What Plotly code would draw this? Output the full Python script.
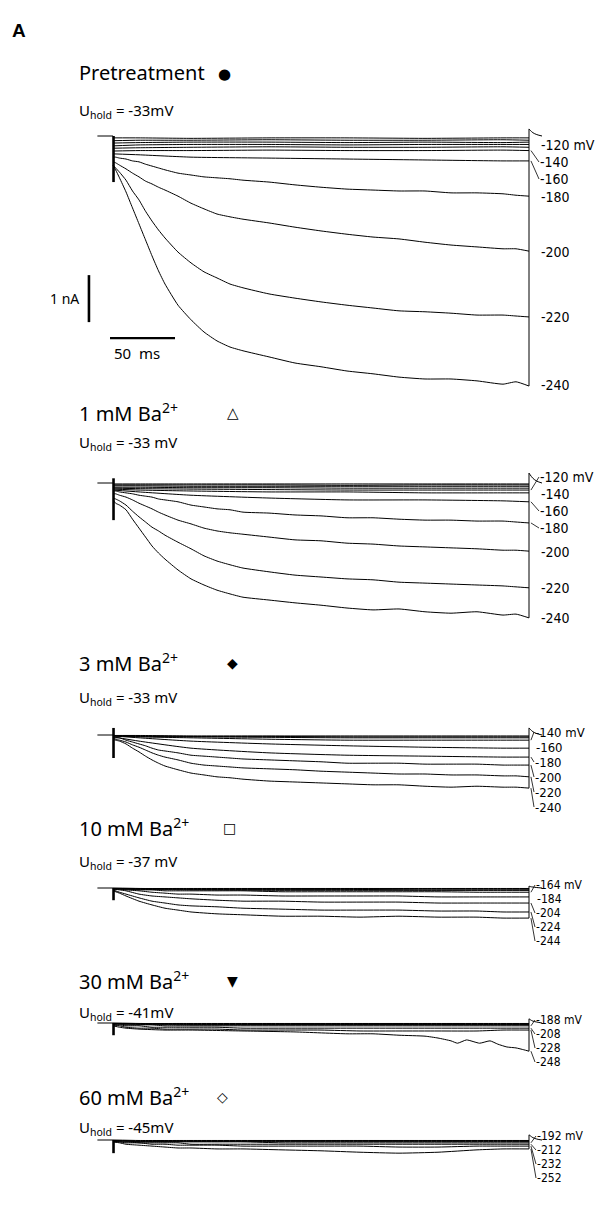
import plotly.graph_objects as go

# ---------------- time bases (ms after the start of the voltage step) ----------------
t_fine = [0, 2, 5, 10, 15, 20, 25, 30, 35, 40, 50, 60, 70, 80, 90, 100,
          120, 140, 160, 180, 200, 220, 240, 260, 280, 300, 310, 320]
t_mid = [0, 5, 10, 20, 30, 40, 50, 60, 80, 100, 130, 160, 190, 220, 250, 280, 300, 320]
t_coarse = [0, 20, 60, 120, 180, 240, 300, 320]
t_hold = [-12, 0]
hold_level = [0.0, 0.0]
t_tail = [320, 321, 323, 326, 330]

# ---------------- Pretreatment (currents in nA, relative to holding current) ----------------
pre_m40 = [-0.04, -0.04, -0.05, -0.04, -0.04, -0.05, -0.04, -0.04]
pre_m60 = [-0.10, -0.09, -0.09, -0.08, -0.09, -0.09, -0.08, -0.09]
pre_m80 = [-0.15, -0.14, -0.13, -0.13, -0.14, -0.13, -0.14, -0.13]
pre_m100 = [-0.21, -0.19, -0.18, -0.18, -0.19, -0.18, -0.18, -0.18]
pre_m120 = [-0.26, -0.25, -0.24, -0.23, -0.24, -0.24, -0.23, -0.24]
pre_m140 = [-0.32, -0.31, -0.31, -0.30, -0.31, -0.31, -0.30, -0.31]
pre_m160 = [-0.38, -0.40, -0.45, -0.47, -0.49, -0.51, -0.53, -0.53]
pre_m180 = [-0.45, -0.45, -0.47, -0.49, -0.53, -0.55, -0.60, -0.64, -0.68, -0.72, -0.79, -0.83, -0.87, -0.89,
            -0.91, -0.94, -0.98, -1.04, -1.09, -1.13, -1.15, -1.17, -1.17, -1.21, -1.21, -1.23, -1.26, -1.28]
pre_m200 = [-0.55, -0.57, -0.62, -0.70, -0.79, -0.87, -0.96, -1.02, -1.09, -1.15, -1.28, -1.43, -1.55, -1.66,
            -1.72, -1.77, -1.85, -1.94, -2.02, -2.09, -2.15, -2.19, -2.26, -2.32, -2.36, -2.40, -2.40, -2.45]
pre_m220 = [-0.62, -0.68, -0.77, -0.94, -1.17, -1.36, -1.60, -1.81, -2.00, -2.17, -2.47, -2.70, -2.89, -3.02,
            -3.15, -3.23, -3.36, -3.45, -3.53, -3.60, -3.66, -3.72, -3.74, -3.77, -3.81, -3.81, -3.83, -3.85]
pre_m240 = [-0.62, -0.72, -0.89, -1.19, -1.53, -1.87, -2.21, -2.55, -2.87, -3.15, -3.60, -3.91, -4.17, -4.36,
            -4.49, -4.57, -4.70, -4.83, -4.91, -5.00, -5.06, -5.13, -5.17, -5.17, -5.21, -5.28, -5.23, -5.32]
pre_spike = [0.0, -0.98]
pre_tail = [0.15, 0.12, 0.07, 0.03, 0.0]

# ---------------- 1 mM Ba2+ ----------------
ba1_m40 = [-0.02, -0.02, -0.02, -0.02, -0.02, -0.02, -0.02, -0.02]
ba1_m60 = [-0.04, -0.04, -0.04, -0.04, -0.05, -0.04, -0.04, -0.04]
ba1_m80 = [-0.06, -0.06, -0.07, -0.07, -0.07, -0.07, -0.07, -0.07]
ba1_m100 = [-0.09, -0.09, -0.10, -0.10, -0.11, -0.11, -0.11, -0.11]
ba1_m120 = [-0.11, -0.12, -0.13, -0.14, -0.15, -0.15, -0.15, -0.15]
ba1_m140 = [-0.13, -0.15, -0.17, -0.19, -0.19, -0.21, -0.21, -0.21]
ba1_m160 = [-0.15, -0.19, -0.26, -0.32, -0.36, -0.36, -0.38, -0.40]
ba1_m180 = [-0.17, -0.17, -0.19, -0.21, -0.23, -0.26, -0.28, -0.30, -0.34, -0.36, -0.40, -0.47, -0.51, -0.55,
            -0.57, -0.62, -0.64, -0.68, -0.70, -0.74, -0.74, -0.77, -0.79, -0.79, -0.81, -0.81, -0.83, -0.85]
ba1_m200 = [-0.23, -0.23, -0.26, -0.30, -0.36, -0.43, -0.49, -0.55, -0.62, -0.68, -0.79, -0.87, -0.96, -1.02,
            -1.06, -1.09, -1.15, -1.21, -1.23, -1.28, -1.30, -1.34, -1.36, -1.38, -1.40, -1.43, -1.43, -1.45]
ba1_m220 = [-0.32, -0.34, -0.38, -0.47, -0.60, -0.72, -0.83, -0.94, -1.02, -1.11, -1.26, -1.40, -1.55, -1.66,
            -1.74, -1.81, -1.89, -1.96, -2.00, -2.04, -2.06, -2.11, -2.13, -2.15, -2.17, -2.19, -2.21, -2.23]
ba1_m240 = [-0.36, -0.43, -0.47, -0.57, -0.77, -0.96, -1.15, -1.34, -1.49, -1.62, -1.85, -2.04, -2.17, -2.28,
            -2.36, -2.43, -2.49, -2.55, -2.60, -2.66, -2.70, -2.68, -2.74, -2.77, -2.74, -2.81, -2.79, -2.87]
ba1_spike = [0.10, -0.79]
ba1_tail = [0.21, 0.17, 0.10, 0.04, 0.0]

# ---------------- 3 mM Ba2+ ----------------
ba3_m80 = [-0.01, -0.01, -0.02, -0.02, -0.02, -0.02, -0.02, -0.02]
ba3_m100 = [-0.01, -0.02, -0.03, -0.03, -0.04, -0.04, -0.04, -0.04]
ba3_m120 = [-0.02, -0.03, -0.04, -0.05, -0.06, -0.06, -0.06, -0.06]
ba3_m140 = [-0.02, -0.04, -0.06, -0.09, -0.11, -0.11, -0.11, -0.11]
ba3_m160 = [-0.02, -0.06, -0.13, -0.19, -0.23, -0.26, -0.28, -0.28]
ba3_m180 = [-0.04, -0.13, -0.28, -0.38, -0.43, -0.45, -0.47, -0.47]
ba3_m200 = [-0.04, -0.06, -0.06, -0.11, -0.15, -0.19, -0.23, -0.28, -0.32, -0.34, -0.38, -0.43, -0.45, -0.47,
            -0.49, -0.51, -0.53, -0.55, -0.57, -0.60, -0.60, -0.60, -0.62, -0.62, -0.62, -0.64, -0.64, -0.64]
ba3_m220 = [-0.06, -0.09, -0.11, -0.15, -0.21, -0.26, -0.32, -0.38, -0.43, -0.47, -0.53, -0.60, -0.64, -0.66,
            -0.68, -0.70, -0.72, -0.74, -0.77, -0.79, -0.81, -0.83, -0.83, -0.85, -0.85, -0.87, -0.87, -0.89]
ba3_m240 = [-0.09, -0.11, -0.13, -0.19, -0.28, -0.36, -0.45, -0.53, -0.60, -0.66, -0.74, -0.81, -0.85, -0.89,
            -0.91, -0.94, -0.98, -1.00, -1.02, -1.04, -1.06, -1.06, -1.09, -1.11, -1.09, -1.11, -1.11, -1.13]
ba3_spike = [0.15, -0.49]
ba3_tail = [0.15, 0.12, 0.07, 0.03, 0.0]

# ---------------- 10 mM Ba2+ ----------------
ba10_m84 = [0.0, -0.01, -0.01, -0.01, -0.01, -0.01, -0.01, -0.01]
ba10_m104 = [-0.01, -0.01, -0.02, -0.02, -0.02, -0.02, -0.02, -0.02]
ba10_m124 = [-0.01, -0.02, -0.03, -0.03, -0.03, -0.04, -0.04, -0.04]
ba10_m144 = [-0.02, -0.03, -0.04, -0.05, -0.05, -0.05, -0.05, -0.05]
ba10_m164 = [-0.02, -0.02, -0.02, -0.04, -0.04, -0.06, -0.06, -0.06, -0.06, -0.06, -0.08, -0.08, -0.08, -0.08,
             -0.08, -0.09, -0.09, -0.09]
ba10_m184 = [-0.02, -0.02, -0.04, -0.06, -0.09, -0.11, -0.13, -0.13, -0.15, -0.15, -0.17, -0.17, -0.17, -0.17,
             -0.19, -0.19, -0.19, -0.19]
ba10_m204 = [-0.02, -0.04, -0.06, -0.13, -0.17, -0.19, -0.21, -0.23, -0.26, -0.28, -0.28, -0.30, -0.30, -0.30,
             -0.32, -0.32, -0.32, -0.32]
ba10_m224 = [-0.04, -0.09, -0.13, -0.21, -0.28, -0.32, -0.36, -0.38, -0.40, -0.43, -0.45, -0.47, -0.47, -0.47,
             -0.49, -0.49, -0.51, -0.51]
ba10_m244 = [-0.06, -0.11, -0.17, -0.28, -0.36, -0.43, -0.47, -0.51, -0.55, -0.57, -0.60, -0.60, -0.62, -0.60,
             -0.62, -0.62, -0.64, -0.64]
ba10_spike = [0.0, -0.26]
ba10_tail = [0.04, 0.03, 0.02, 0.01, 0.0]

# ---------------- 30 mM Ba2+ ----------------
t_ba30_m248 = [0, 5, 10, 20, 40, 60, 100, 140, 180, 200, 220, 240, 250, 260, 265, 272, 282, 290, 296, 303,
               310, 316, 320]
ba30_m108 = [0.0, -0.01, -0.01, -0.01, -0.01, -0.01, -0.01, -0.01]
ba30_m128 = [-0.01, -0.01, -0.02, -0.02, -0.02, -0.02, -0.02, -0.02]
ba30_m148 = [-0.01, -0.02, -0.03, -0.03, -0.03, -0.03, -0.03, -0.03]
ba30_m168 = [-0.02, -0.03, -0.04, -0.04, -0.04, -0.04, -0.04, -0.04]
ba30_m188 = [-0.02, -0.02, -0.04, -0.04, -0.04, -0.06, -0.06, -0.06, -0.06, -0.06, -0.06, -0.06, -0.06, -0.06,
             -0.06, -0.06, -0.06, -0.06]
ba30_m208 = [-0.04, -0.04, -0.06, -0.06, -0.09, -0.09, -0.09, -0.09, -0.09, -0.11, -0.11, -0.11, -0.11, -0.11,
             -0.11, -0.11, -0.11, -0.11]
ba30_m228 = [-0.04, -0.06, -0.09, -0.11, -0.11, -0.13, -0.13, -0.13, -0.13, -0.15, -0.15, -0.15, -0.17, -0.17,
             -0.17, -0.17, -0.15, -0.15]
ba30_m248 = [-0.06, -0.09, -0.11, -0.13, -0.15, -0.15, -0.17, -0.19, -0.23, -0.23, -0.26, -0.28, -0.32, -0.38,
             -0.43, -0.36, -0.43, -0.38, -0.45, -0.51, -0.53, -0.57, -0.60]
ba30_spike = [0.0, -0.26]
ba30_tail = [0.09, 0.07, 0.04, 0.02, 0.0]

# ---------------- 60 mM Ba2+ ----------------
ba60_m132 = [0.0, -0.01, -0.01, -0.01, -0.01, -0.01, -0.01, -0.01]
ba60_m152 = [-0.01, -0.02, -0.02, -0.02, -0.02, -0.02, -0.02, -0.02]
ba60_m172 = [-0.02, -0.03, -0.03, -0.03, -0.03, -0.03, -0.03, -0.03]
ba60_m192 = [-0.02, -0.02, -0.02, -0.04, -0.04, -0.04, -0.04, -0.04, -0.04, -0.04, -0.06, -0.06, -0.06, -0.06,
             -0.06, -0.06, -0.06, -0.06]
ba60_m212 = [-0.02, -0.04, -0.04, -0.06, -0.06, -0.06, -0.06, -0.09, -0.09, -0.09, -0.09, -0.09, -0.09, -0.09,
             -0.09, -0.09, -0.09, -0.09]
ba60_m232 = [-0.04, -0.04, -0.06, -0.06, -0.09, -0.09, -0.11, -0.11, -0.11, -0.13, -0.13, -0.13, -0.13, -0.15,
             -0.15, -0.13, -0.13, -0.13]
ba60_m252 = [-0.04, -0.06, -0.09, -0.11, -0.13, -0.15, -0.17, -0.17, -0.19, -0.19, -0.21, -0.23, -0.26, -0.28,
             -0.26, -0.21, -0.19, -0.19]
ba60_spike = [0.0, -0.28]
ba60_tail = [0.11, 0.09, 0.05, 0.02, 0.0]

# ---------------- panel contents ----------------
panels = [
    dict(title="Pretreatment", symbol="●", hold="-33mV",
         traces=[(t_coarse, pre_m40), (t_coarse, pre_m60), (t_coarse, pre_m80), (t_coarse, pre_m100),
                 (t_coarse, pre_m120), (t_coarse, pre_m140), (t_coarse, pre_m160), (t_fine, pre_m180),
                 (t_fine, pre_m200), (t_fine, pre_m220), (t_fine, pre_m240)],
         labels=[("-120 mV", pre_m120), ("-140", pre_m140), ("-160", pre_m160), ("-180", pre_m180),
                 ("-200", pre_m200), ("-220", pre_m220), ("-240", pre_m240)],
         spike=pre_spike, tail=pre_tail),
    dict(title="1 mM Ba<sup>2+</sup>", symbol="△", hold="-33 mV",
         traces=[(t_coarse, ba1_m40), (t_coarse, ba1_m60), (t_coarse, ba1_m80), (t_coarse, ba1_m100),
                 (t_coarse, ba1_m120), (t_coarse, ba1_m140), (t_coarse, ba1_m160), (t_fine, ba1_m180),
                 (t_fine, ba1_m200), (t_fine, ba1_m220), (t_fine, ba1_m240)],
         labels=[("-120 mV", ba1_m120), ("-140", ba1_m140), ("-160", ba1_m160), ("-180", ba1_m180),
                 ("-200", ba1_m200), ("-220", ba1_m220), ("-240", ba1_m240)],
         spike=ba1_spike, tail=ba1_tail),
    dict(title="3 mM Ba<sup>2+</sup>", symbol="◆", hold="-33 mV",
         traces=[(t_coarse, ba3_m80), (t_coarse, ba3_m100), (t_coarse, ba3_m120), (t_coarse, ba3_m140),
                 (t_coarse, ba3_m160), (t_coarse, ba3_m180), (t_fine, ba3_m200), (t_fine, ba3_m220),
                 (t_fine, ba3_m240)],
         labels=[("-140 mV", ba3_m140), ("-160", ba3_m160), ("-180", ba3_m180), ("-200", ba3_m200),
                 ("-220", ba3_m220), ("-240", ba3_m240)],
         spike=ba3_spike, tail=ba3_tail),
    dict(title="10 mM Ba<sup>2+</sup>", symbol="□", hold="-37 mV",
         traces=[(t_coarse, ba10_m84), (t_coarse, ba10_m104), (t_coarse, ba10_m124), (t_coarse, ba10_m144),
                 (t_mid, ba10_m164), (t_mid, ba10_m184), (t_mid, ba10_m204), (t_mid, ba10_m224),
                 (t_mid, ba10_m244)],
         labels=[("-164 mV", ba10_m164), ("-184", ba10_m184), ("-204", ba10_m204), ("-224", ba10_m224),
                 ("-244", ba10_m244)],
         spike=ba10_spike, tail=ba10_tail),
    dict(title="30 mM Ba<sup>2+</sup>", symbol="▼", hold="-41mV",
         traces=[(t_coarse, ba30_m108), (t_coarse, ba30_m128), (t_coarse, ba30_m148), (t_coarse, ba30_m168),
                 (t_mid, ba30_m188), (t_mid, ba30_m208), (t_mid, ba30_m228), (t_ba30_m248, ba30_m248)],
         labels=[("-188 mV", ba30_m188), ("-208", ba30_m208), ("-228", ba30_m228), ("-248", ba30_m248)],
         spike=ba30_spike, tail=ba30_tail),
    dict(title="60 mM Ba<sup>2+</sup>", symbol="◇", hold="-45mV",
         traces=[(t_coarse, ba60_m132), (t_coarse, ba60_m152), (t_coarse, ba60_m172), (t_mid, ba60_m192),
                 (t_mid, ba60_m212), (t_mid, ba60_m232), (t_mid, ba60_m252)],
         labels=[("-192 mV", ba60_m192), ("-212", ba60_m212), ("-232", ba60_m232), ("-252", ba60_m252)],
         spike=ba60_spike, tail=ba60_tail),
]

# ---------------- page geometry (pixels) ----------------
W, H = 611, 1212
MS_PX = 1.3          # horizontal scale: pixels per ms
NA_PX = 47.0         # vertical scale: pixels per nA
ONSET_PX = 113       # x pixel of the step onset
TEXT_X = 77
x_range = [-ONSET_PX / MS_PX, (W - ONSET_PX) / MS_PX]

placement = [
    dict(base=136, top=100, bot=400, title_y=73, hold_y=111, sym_x=224, sym_size=15, lab_x=539, lab_size=14,
         lab_y=[145, 162, 179, 197, 252, 317, 385]),
    dict(base=483, top=462, bot=640, title_y=412, hold_y=443, sym_x=233, sym_size=15, lab_x=539, lab_size=14,
         lab_y=[477, 494, 511, 528, 552, 588, 618]),
    dict(base=735, top=715, bot=820, title_y=662, hold_y=698, sym_x=232, sym_size=14, lab_x=534, lab_size=13,
         lab_y=[732, 747, 762, 777, 792, 807]),
    dict(base=888, top=872, bot=955, title_y=827, hold_y=862, sym_x=229, sym_size=14, lab_x=535, lab_size=12,
         lab_y=[885, 899, 913, 927, 941]),
    dict(base=1023, top=1008, bot=1075, title_y=980, hold_y=1013, sym_x=232, sym_size=14, lab_x=535, lab_size=12,
         lab_y=[1020, 1034, 1048, 1062]),
    dict(base=1140, top=1125, bot=1190, title_y=1096, hold_y=1128, sym_x=222, sym_size=14, lab_x=536, lab_size=12,
         lab_y=[1136, 1150, 1164, 1178]),
]

HEAD_FONT = "Noto Sans, DejaVu Sans, sans-serif"
LAB_FONT = "Liberation Sans Narrow, DejaVu Sans Condensed, Roboto Condensed, Liberation Sans, sans-serif"
SYM_FONT = "DejaVu Sans, sans-serif"


def px(xp):
    return xp / W


def py(yp):
    return 1 - yp / H


fig = go.Figure()
layout_axes = {}
annotations = []
thin = dict(color="black", width=1.0)

for k, (p, g) in enumerate(zip(panels, placement), start=1):
    xa = "x" if k == 1 else f"x{k}"
    ya = "y" if k == 1 else f"y{k}"
    layout_axes["xaxis" if k == 1 else f"xaxis{k}"] = dict(
        domain=[0, 1], range=x_range, visible=False, fixedrange=True, anchor=ya)
    layout_axes["yaxis" if k == 1 else f"yaxis{k}"] = dict(
        domain=[py(g["bot"]), py(g["top"])],
        range=[-(g["bot"] - g["base"]) / NA_PX, (g["base"] - g["top"]) / NA_PX],
        visible=False, fixedrange=True, anchor=xa)

    common = dict(xaxis=xa, yaxis=ya, mode="lines", hoverinfo="skip", showlegend=False)
    # holding current before the step
    fig.add_trace(go.Scatter(x=t_hold, y=hold_level, line=thin, **common))
    # capacitive transient at step onset
    fig.add_trace(go.Scatter(x=[0.4, 0.4], y=p["spike"], line=dict(color="black", width=2.6), **common))
    # current traces during the hyperpolarising steps
    for t, v in p["traces"]:
        fig.add_trace(go.Scatter(x=t, y=v, line=dict(color="black", width=1.0, shape="spline", smoothing=0.5),
                                 **common))
    # return to holding potential and tail current
    ends = [v[-1] for _, v in p["traces"]]
    fig.add_trace(go.Scatter(x=[t_tail[0], t_tail[0]], y=[min(ends), p["tail"][0]], line=thin, **common))
    fig.add_trace(go.Scatter(x=t_tail, y=p["tail"], line=dict(color="black", width=1.0, shape="spline"),
                             **common))

    # headings
    annotations.append(dict(xref="paper", yref="paper", x=px(TEXT_X), y=py(g["title_y"]), text=p["title"],
                            showarrow=False, xanchor="left", yanchor="middle",
                            font=dict(family=HEAD_FONT, size=20, color="black")))
    annotations.append(dict(xref="paper", yref="paper", x=px(g["sym_x"]), y=py(g["title_y"] + 1),
                            text=p["symbol"], showarrow=False, xanchor="center", yanchor="middle",
                            font=dict(family=SYM_FONT, size=g["sym_size"], color="black")))
    annotations.append(dict(xref="paper", yref="paper", x=px(TEXT_X), y=py(g["hold_y"]),
                            text="U<sub>hold</sub> = " + p["hold"], showarrow=False, xanchor="left",
                            yanchor="middle", font=dict(family=HEAD_FONT, size=15, color="black")))

    # step-potential labels with leader lines to the trace ends
    end_x_px = ONSET_PX + (t_tail[0] + 1.5) * MS_PX
    for (text, v), ly in zip(p["labels"], g["lab_y"]):
        end_y_px = g["base"] - v[-1] * NA_PX
        lab_font = dict(family=LAB_FONT, size=g["lab_size"], color="black")
        if abs(ly - end_y_px) < 3.5:
            annotations.append(dict(xref="paper", yref="paper", x=px(g["lab_x"]), y=py(ly), text=text,
                                    showarrow=False, xanchor="left", yanchor="middle", font=lab_font))
        else:
            annotations.append(dict(xref=xa, yref=ya, x=t_tail[0] + 1.5, y=v[-1], text=text,
                                    showarrow=True, arrowhead=0, arrowwidth=0.8, arrowcolor="black",
                                    ax=g["lab_x"] - end_x_px, ay=ly - end_y_px, xanchor="left",
                                    yanchor="middle", borderpad=0, standoff=0, font=lab_font))

# ---------------- calibration bars (1 nA, 50 ms) in the first panel ----------------
SCALE_NA = 1.0
SCALE_MS = 50.0
vbar_t, vbar_top = -18.5, -2.96
hbar_t0, hbar_i = -2.3, -4.3
fig.add_trace(go.Scatter(x=[vbar_t, vbar_t], y=[vbar_top, vbar_top - SCALE_NA], mode="lines",
                         line=dict(color="black", width=2.6), hoverinfo="skip", showlegend=False))
fig.add_trace(go.Scatter(x=[hbar_t0, hbar_t0 + SCALE_MS], y=[hbar_i, hbar_i], mode="lines",
                         line=dict(color="black", width=2.4), hoverinfo="skip", showlegend=False))
annotations.append(dict(xref="paper", yref="paper", x=px(64), y=py(298), text="1 nA", showarrow=False,
                        xanchor="center", yanchor="middle", font=dict(family=HEAD_FONT, size=14, color="black")))
annotations.append(dict(xref="paper", yref="paper", x=px(137), y=py(353), text="50  ms", showarrow=False,
                        xanchor="center", yanchor="middle", font=dict(family=HEAD_FONT, size=15, color="black")))

# panel letter
annotations.append(dict(xref="paper", yref="paper", x=px(10), y=py(30), text="<b>A</b>", showarrow=False,
                        xanchor="left", yanchor="middle",
                        font=dict(family="Liberation Sans, Arial, sans-serif", size=19, color="black")))

fig.update_layout(
    width=W, height=H, autosize=False,
    margin=dict(l=0, r=0, t=0, b=0),
    paper_bgcolor="white", plot_bgcolor="rgba(0,0,0,0)",
    showlegend=False,
    annotations=annotations,
    **layout_axes,
)

fig.write_html("out.html", config={"displayModeBar": False})
